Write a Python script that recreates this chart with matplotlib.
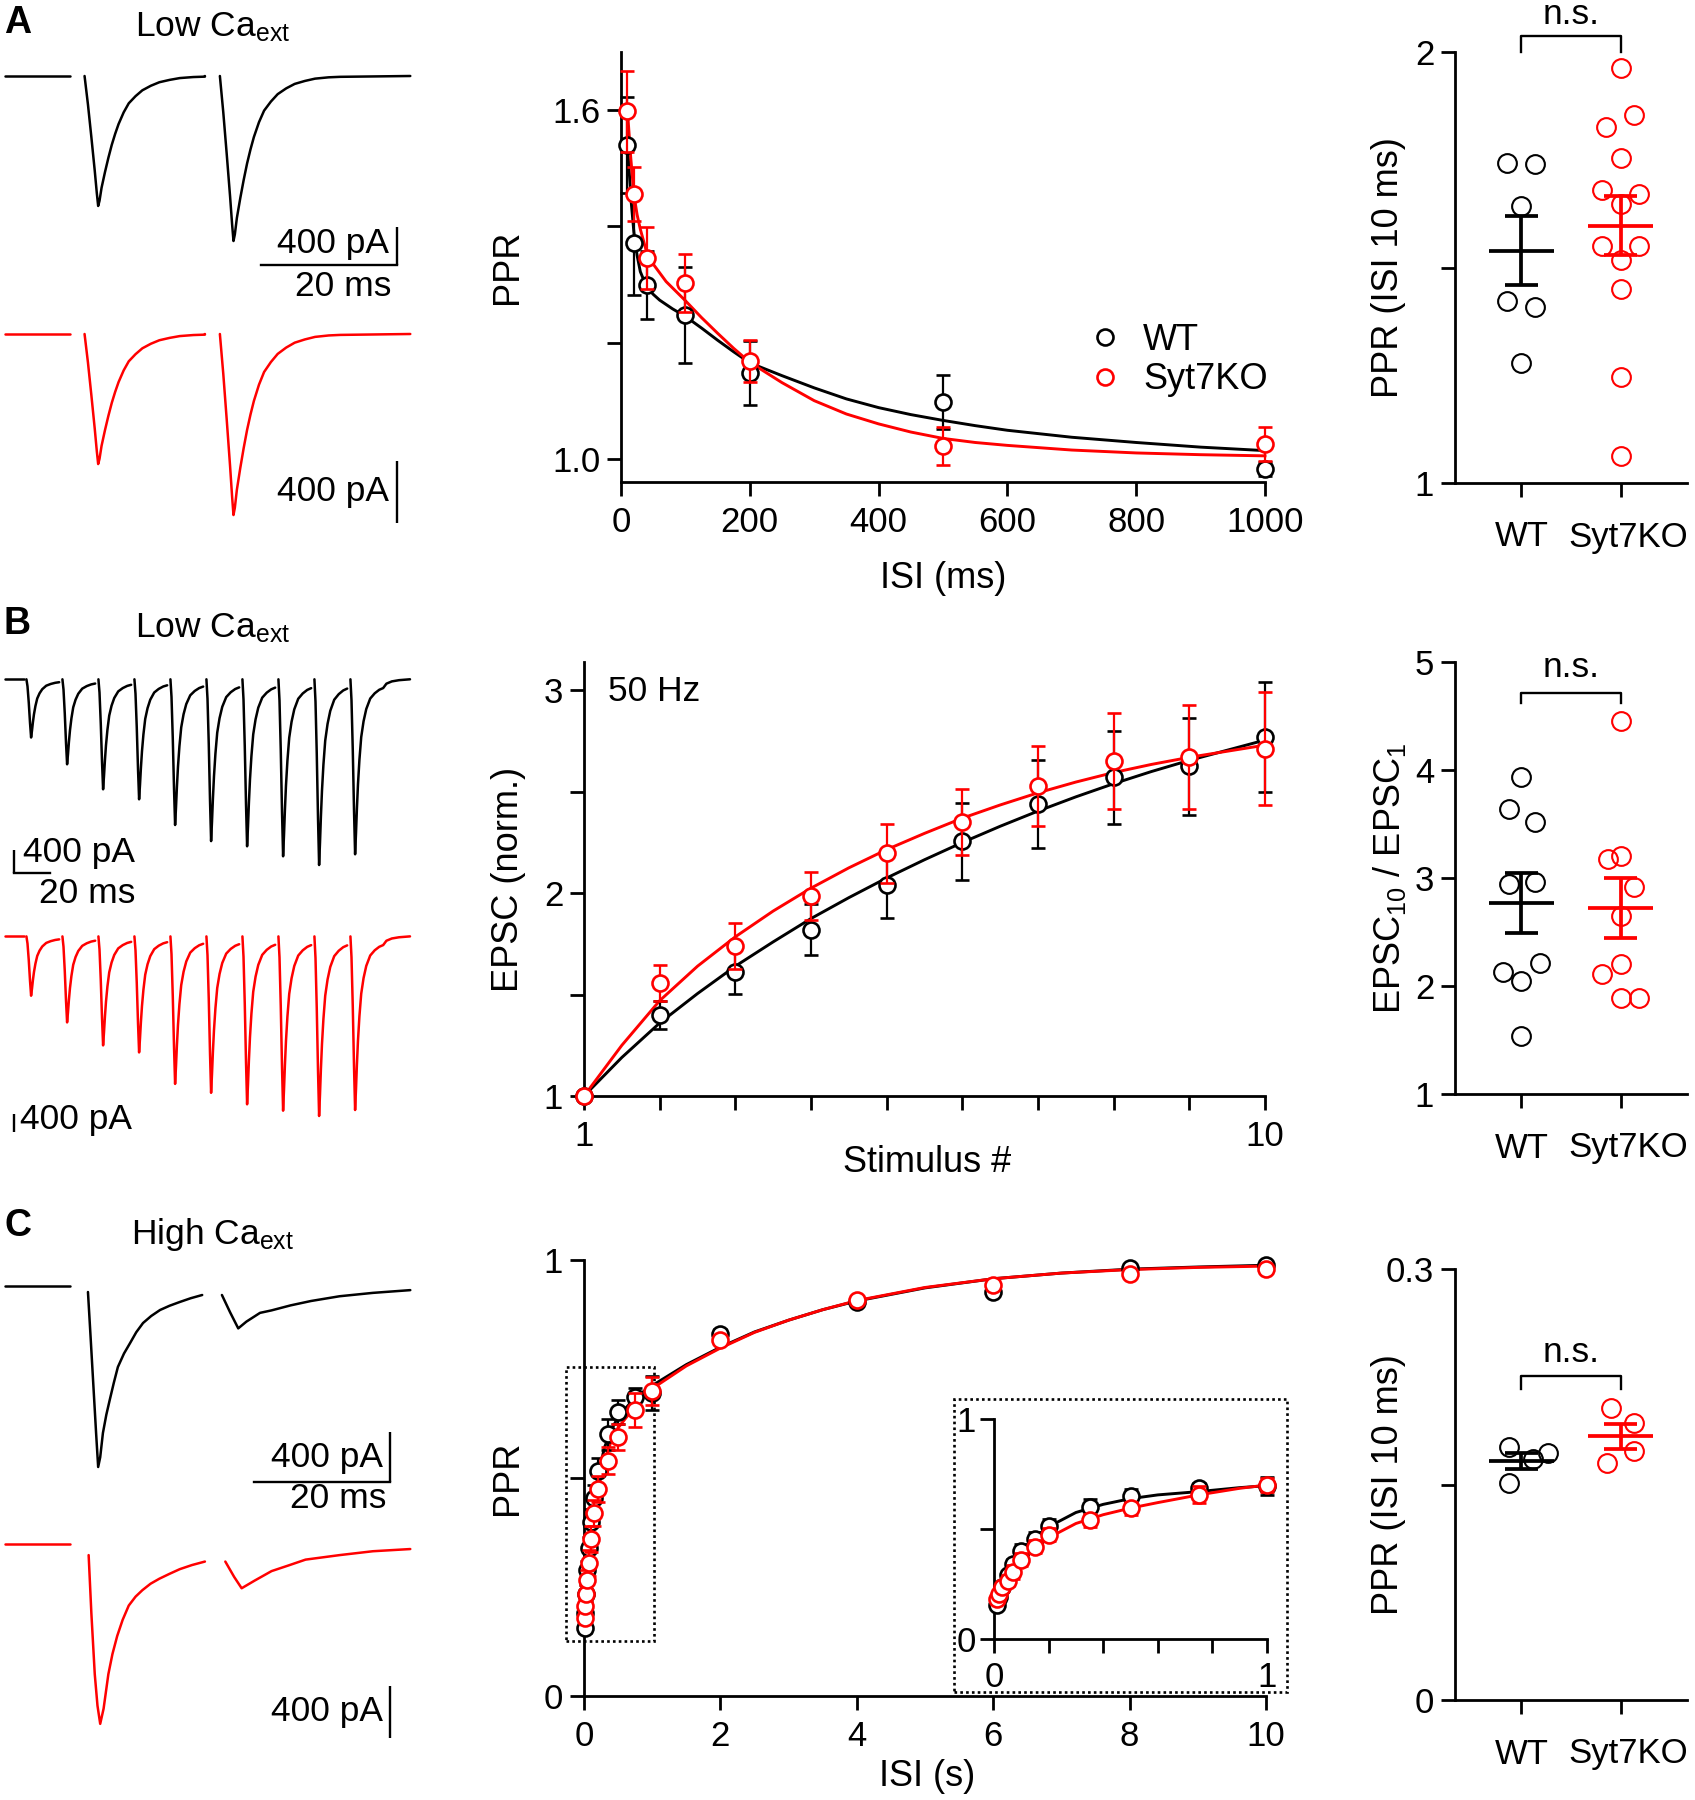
import numpy as np
import matplotlib
matplotlib.use("Agg")
import matplotlib.pyplot as plt
import matplotlib.transforms as mtransforms
from matplotlib.lines import Line2D
from matplotlib.patches import Rectangle

plt.rcParams['font.family'] = ['Liberation Sans', 'DejaVu Sans']
plt.rcParams['mathtext.fontset'] = 'custom'
plt.rcParams['mathtext.rm'] = 'Liberation Sans'
plt.rcParams['mathtext.it'] = 'Liberation Sans:italic'
plt.rcParams['mathtext.bf'] = 'Liberation Sans:bold'

# ====================== DATA ======================
# ---- Panel A, example traces (time in ms, current in pA) ----
a_pre = [0.0, 9.5]
a_onsets = [11.7, 31.6]
a_seg_end = [29.4, 59.6]
a_shape_t = [0, 0.5, 1.0, 1.5, 1.8, 2.0, 2.2, 2.5, 3.0, 3.5, 4.0, 4.5, 5.0, 5.75, 6.5, 7.5,
             8.5, 9.75, 11, 12.5, 14, 16, 17.7]
a_shape_a = [0, 0.22, 0.47, 0.73, 0.9, 1.0, 0.96, 0.86, 0.74, 0.63, 0.53, 0.445, 0.37, 0.28,
             0.21, 0.155, 0.11, 0.075, 0.048, 0.03, 0.016, 0.008, 0.005]
a_wt_amp = [1368, 1737]
a_ko_amp = [839, 1168]

# ---- Panel A, PPR vs ISI ----
isi_a = [10, 20, 40, 100, 200, 500, 1000]
wt_a = [1.540, 1.371, 1.299, 1.247, 1.147, 1.098, 0.983]
wt_a_err = [0.082, 0.09, 0.058, 0.083, 0.055, 0.047, 0.012]
ko_a = [1.598, 1.456, 1.346, 1.303, 1.168, 1.022, 1.025]
ko_a_err = [0.07, 0.046, 0.053, 0.05, 0.036, 0.032, 0.029]
wt_a_fit_x = [10, 13, 16, 20, 25, 30, 40, 50, 60, 80, 100, 125, 150, 175, 200, 250, 300, 350,
              400, 450, 500, 550, 600, 700, 800, 900, 1000]
wt_a_fit_y = [1.540, 1.490, 1.440, 1.390, 1.350, 1.322, 1.295, 1.283, 1.273, 1.258, 1.245,
              1.225, 1.204, 1.184, 1.165, 1.143, 1.122, 1.103, 1.088, 1.076, 1.066, 1.057,
              1.049, 1.037, 1.028, 1.020, 1.014]
ko_a_fit_x = [10, 15, 20, 25, 30, 40, 50, 70, 100, 125, 150, 175, 200, 250, 300, 350, 400,
              450, 500, 550, 600, 700, 800, 900, 1000]
ko_a_fit_y = [1.600, 1.520, 1.455, 1.420, 1.395, 1.355, 1.335, 1.305, 1.272, 1.243, 1.216,
              1.190, 1.166, 1.131, 1.100, 1.077, 1.060, 1.046, 1.035, 1.028, 1.023, 1.015,
              1.010, 1.007, 1.005]

# ---- Panel A, PPR at ISI 10 ms per cell ----
wt_a_cells = [1.743, 1.741, 1.642, 1.422, 1.408, 1.279]
ko_a_cells = [1.963, 1.853, 1.825, 1.753, 1.679, 1.670, 1.648, 1.549, 1.549, 1.518, 1.449, 1.245, 1.063]

# ---- Panel B, example 50 Hz trains ----
b_pre = [0.0, 10.4]
b_first_onset = 11.9
b_interval = 20.0
b_end = 225.0
b_shape_t = [0, 0.6, 1.3, 2.0, 2.6, 3.1, 3.6, 4.2, 5.0, 6.0, 7.3, 8.8, 11, 13.5, 16, 18.2]
b_shape_a = [0, 0.12, 0.4, 0.75, 1.0, 0.88, 0.74, 0.6, 0.46, 0.33, 0.24, 0.17, 0.11, 0.08, 0.06, 0.05]
b_tail_t = [20, 23, 27, 33]
b_tail_a = [0.025, 0.012, 0.005, 0.0]
b_wt_amp = [1012, 1478, 1913, 2087, 2534, 2814, 2904, 3078, 3230, 3043]
b_ko_amp = [1318, 1911, 2422, 2578, 3278, 3476, 3731, 3873, 3991, 3858]

# ---- Panel B, normalized EPSC vs stimulus number ----
stim_b = [1, 2, 3, 4, 5, 6, 7, 8, 9, 10]
wt_b = [1.0, 1.398, 1.613, 1.820, 2.039, 2.255, 2.440, 2.572, 2.625, 2.771]
wt_b_err = [0, 0.07, 0.11, 0.125, 0.16, 0.19, 0.215, 0.23, 0.24, 0.27]
ko_b = [1.0, 1.556, 1.739, 1.986, 2.197, 2.352, 2.528, 2.651, 2.673, 2.713]
ko_b_err = [0, 0.09, 0.115, 0.12, 0.145, 0.163, 0.198, 0.237, 0.256, 0.277]
b_fit_x = [1, 1.5, 2, 2.5, 3, 3.5, 4, 4.5, 5, 5.5, 6, 6.5, 7, 7.5, 8, 8.5, 9, 9.5, 10]
wt_b_fit = [1.0, 1.19, 1.36, 1.505, 1.64, 1.76, 1.875, 1.978, 2.075, 2.165, 2.25, 2.33, 2.405,
            2.475, 2.54, 2.60, 2.655, 2.705, 2.755]
ko_b_fit = [1.0, 1.25, 1.47, 1.64, 1.785, 1.912, 2.025, 2.125, 2.215, 2.295, 2.37, 2.435, 2.495,
            2.548, 2.595, 2.635, 2.67, 2.70, 2.73]

# ---- Panel B, EPSC10/EPSC1 per cell ----
wt_b_cells = [3.937, 3.64, 3.515, 2.94, 2.96, 2.132, 2.21, 2.05, 1.538]
ko_b_cells = [4.452, 3.175, 3.2, 2.92, 2.65, 2.2, 2.11, 1.89, 1.89]

# ---- Panel C, example traces (high Ca) ----
c_pre = [0.0, 9.5]
c_wt_t1 = [12.2, 12.6, 13.0, 13.4, 13.7, 14.0, 14.4, 14.9, 15.4, 16.0, 16.6, 17.5, 18.4, 19.3,
           20.3, 21.5, 22.8, 24.2, 25.7, 27.3, 29.0]
c_wt_i1 = [-48, -420, -800, -1180, -1448, -1370, -1176, -1030, -912, -775, -648, -540, -456,
           -370, -296, -240, -192, -158, -128, -98, -72]
c_wt_t2 = [31.9, 33.1, 34.3, 35.5, 37.5, 39.2, 42.0, 45.0, 49.2, 54.1, 59.6]
c_wt_i2 = [-72, -210, -339, -285, -215, -195, -155, -120, -82, -55, -33]
c_ko_t1 = [12.3, 12.7, 13.2, 13.6, 14.0, 14.5, 15.2, 15.8, 16.5, 17.3, 18.2, 19.2, 20.2, 21.4,
           22.7, 24.2, 25.7, 27.5, 29.4]
c_ko_i1 = [-83, -533, -1006, -1250, -1391, -1273, -1006, -850, -710, -585, -474, -405, -355,
           -305, -266, -228, -192, -160, -133]
c_ko_t2 = [32.4, 33.7, 34.8, 36.7, 39.2, 41.7, 44.2, 49.2, 54.1, 59.6]
c_ko_i2 = [-133, -252, -340, -281, -207, -163, -118, -83, -53, -36]

# ---- Panel C, PPR vs ISI (s) ----
isi_c = [0.01, 0.02, 0.03, 0.05, 0.07, 0.1, 0.15, 0.2, 0.35, 0.5, 0.75, 1, 2, 4, 6, 8, 10]
wt_c = [0.155, 0.19, 0.235, 0.29, 0.34, 0.40, 0.455, 0.515, 0.60, 0.652, 0.685, 0.695,
        0.831, 0.904, 0.927, 0.981, 0.988]
wt_c_err = [0.01, 0.015, 0.02, 0.02, 0.025, 0.03, 0.03, 0.03, 0.035, 0.028, 0.022, 0.04,
            0.01, 0.01, 0.01, 0.008, 0.006]
ko_c = [0.18, 0.206, 0.235, 0.265, 0.305, 0.36, 0.42, 0.475, 0.54, 0.595, 0.656, 0.70,
        0.817, 0.908, 0.942, 0.969, 0.979]
ko_c_err = [0.01, 0.015, 0.02, 0.025, 0.03, 0.03, 0.03, 0.03, 0.03, 0.03, 0.04, 0.032,
            0.01, 0.01, 0.01, 0.008, 0.006]
c_fit_x = [0.01, 0.05, 0.1, 0.2, 0.3, 0.4, 0.5, 0.75, 1.0, 1.5, 2, 2.5, 3, 3.5, 4, 5, 6, 7, 8, 9, 10]
wt_c_fit = [0.15, 0.29, 0.39, 0.50, 0.57, 0.61, 0.64, 0.685, 0.712, 0.76, 0.80, 0.835, 0.862,
            0.886, 0.906, 0.936, 0.957, 0.970, 0.979, 0.984, 0.988]
ko_c_fit = [0.17, 0.28, 0.36, 0.47, 0.54, 0.585, 0.615, 0.665, 0.705, 0.757, 0.798, 0.834, 0.862,
            0.886, 0.907, 0.937, 0.957, 0.970, 0.978, 0.983, 0.986]
ci_fit_x = [0.01, 0.03, 0.05, 0.1, 0.15, 0.2, 0.3, 0.4, 0.5, 0.6, 0.75, 0.9, 1.0]
wt_ci_fit = [0.16, 0.25, 0.30, 0.40, 0.46, 0.51, 0.575, 0.612, 0.638, 0.655, 0.67, 0.688, 0.697]
ko_ci_fit = [0.18, 0.235, 0.28, 0.355, 0.415, 0.46, 0.525, 0.565, 0.595, 0.62, 0.655, 0.685, 0.70]

# ---- Panel C, PPR at ISI 10 ms per cell ----
wt_c_cells = [0.176, 0.1717, 0.1675, 0.1511]
ko_c_cells = [0.2031, 0.1931, 0.1735, 0.1647]

groups = ['WT', 'Syt7KO']

# ====================== LAYOUT / STYLE ======================
# horizontal spread of overlapping dots (category units)
wt_a_jit = [-0.143, 0.14, 0, -0.143, 0.14, 0]
ko_a_jit = [0, 0.14, -0.143, 0, -0.19, 0.19, 0, -0.19, 0.19, 0, 0, 0, 0]
wt_b_jit = [0, -0.13, 0.14, -0.13, 0.14, -0.19, 0.19, 0, 0]
ko_b_jit = [0, -0.13, 0, 0.135, 0, 0, -0.19, 0, 0.19]
wt_c_jit = [-0.13, 0.27, 0.12, -0.13]
ko_c_jit = [-0.1, 0.135, 0.135, -0.14]

W, H = 1695, 1800
fig = plt.figure(figsize=(W / 100, H / 100), dpi=100)

BLK = 'black'
RED = '#ff0000'
FS = 25          # tick labels
LFS = 26         # axis labels
TFS = 25.5       # annotation text
SPW = 2.0        # spine width
TL = 10          # tick length
MS = 11.5
MEW = 1.9
MSR = 13.5
MEWR = 1.5
TRW = 1.8        # trace width
SBW = 1.7        # scale bar width
FITW = 2.1


def ax_px(l, t, r, b, **kw):
    return fig.add_axes([l / W, 1 - b / H, (r - l) / W, (b - t) / H], **kw)


def ftext(x, y, s, **kw):
    kw.setdefault('fontsize', TFS)
    return fig.text(x / W, 1 - y / H, s, **kw)


def style(ax, xpad=7, ypad=5):
    for s in ['top', 'right']:
        ax.spines[s].set_visible(False)
    for s in ['left', 'bottom']:
        ax.spines[s].set_linewidth(SPW)
    ax.tick_params(axis='both', width=SPW, length=TL, labelsize=FS, direction='out')
    ax.tick_params(axis='x', pad=xpad)
    ax.tick_params(axis='y', pad=ypad)
    ax.patch.set_alpha(0)


class Trace:
    def __init__(self, l, t, r, b, x0, base, px_ms, px_pA):
        self.ax = ax_px(l, t, r, b)
        self.ax.set_xlim((l - x0) / px_ms, (r - x0) / px_ms)
        self.ax.set_ylim((base - b) / px_pA, (base - t) / px_pA)
        self.ax.axis('off')
        self.x0, self.base, self.px_ms, self.px_pA = x0, base, px_ms, px_pA

    def t(self, xpx):
        return (xpx - self.x0) / self.px_ms

    def i(self, ypx):
        return (self.base - ypx) / self.px_pA

    def line(self, t, i, color):
        self.ax.plot(t, i, color=color, lw=TRW, clip_on=False, solid_joinstyle='round',
                     solid_capstyle='round')

    def vbar(self, xpx, ybot_px, dI):
        t = self.t(xpx)
        i0 = self.i(ybot_px)
        self.ax.plot([t, t], [i0, i0 + dI], color=BLK, lw=SBW, clip_on=False,
                     solid_capstyle='butt')

    def hbar(self, xleft_px, ypx, dt):
        t0 = self.t(xleft_px)
        i0 = self.i(ypx)
        self.ax.plot([t0, t0 + dt], [i0, i0], color=BLK, lw=SBW, clip_on=False,
                     solid_capstyle='projecting')


def series(ax, x, y, e, color, z):
    cont = ax.errorbar(x, y, yerr=e, fmt='none', ecolor=color, elinewidth=1.6,
                       capsize=4.8, capthick=1.9, zorder=z)
    for art in cont.get_children():
        art.set_clip_on(False)
    ax.plot(x, y, 'o', ms=MS, mfc='white', mec=color, mew=MEW, zorder=z + 0.5, clip_on=False)


def dots(ax, vals, jit, xc, color):
    xs = [xc + j for j in jit]
    ax.plot(xs, vals, 'o', ms=MSR, mfc='none', mec=color, mew=MEWR, clip_on=False, zorder=3)
    m = np.mean(vals)
    sem = np.std(vals, ddof=1) / np.sqrt(len(vals))
    kw = dict(color=color, lw=2.7, solid_capstyle='butt', zorder=4, clip_on=False)
    ax.plot([xc - 0.33, xc + 0.33], [m, m], **kw)
    ax.plot([xc, xc], [m - sem, m + sem], **kw)
    ax.plot([xc - 0.163, xc + 0.163], [m + sem, m + sem], **kw)
    ax.plot([xc - 0.163, xc + 0.163], [m - sem, m - sem], **kw)


def bracket(ax, y0, y1, ytxt):
    ax.plot([0, 0, 1, 1], [y0, y1, y1, y0], color=BLK, lw=1.7, clip_on=False)
    ax.text(0.5, ytxt, 'n.s.', ha='center', va='center', fontsize=TFS)


def right_panel(ax, ylim, yticks, ylabels, ylab, lab_x_px, l_px, w_px):
    style(ax, xpad=17)
    ax.set_xlim(-0.67, 1.67)
    ax.set_ylim(*ylim)
    ax.set_yticks(yticks)
    ax.set_yticklabels(ylabels)
    ax.set_xticks([0, 1])
    ax.set_xticklabels(groups)
    shift = mtransforms.ScaledTranslation(8 / 100, 0, fig.dpi_scale_trans)
    lab = ax.get_xticklabels()[1]
    lab.set_transform(lab.get_transform() + shift)
    ax.set_ylabel(ylab, fontsize=LFS, va='center')
    ax.yaxis.set_label_coords((lab_x_px - l_px) / w_px, 0.5)


# ---------------- panel letters & titles ----------------
ftext(4, 33, 'A', fontsize=27, fontweight='bold', va='baseline')
ftext(4, 634, 'B', fontsize=27, fontweight='bold', va='baseline')
ftext(4, 1236, 'C', fontsize=27, fontweight='bold', va='baseline')
ftext(135, 36, r'Low Ca$_{\mathregular{ext}}$', va='baseline')
ftext(135, 637, r'Low Ca$_{\mathregular{ext}}$', va='baseline')
ftext(131, 1244, r'High Ca$_{\mathregular{ext}}$', va='baseline')

# ---------------- A traces ----------------
for amps, color, box, base, ppa in [(a_wt_amp, BLK, (55, 290), 76, 0.095),
                                    (a_ko_amp, RED, (315, 545), 334, 0.155)]:
    tr = Trace(5, box[0], 412, box[1], 5, base, 6.8, ppa)
    tr.line(a_pre, [0, 0], color)
    for on, end, amp in zip(a_onsets, a_seg_end, amps):
        ts = list(on + np.array(a_shape_t)) + [end]
        Is = list(-amp * np.array(a_shape_a)) + [0]
        tr.line(ts, Is, color)
    if color == BLK:
        tr.vbar(396.6, 265, 400)
        tr.hbar(396.6 - 20 * 6.8, 265, 20)
        ftext(389, 243, '400 pA', ha='right', va='center')
        ftext(391, 286, '20 ms', ha='right', va='center')
    else:
        tr.vbar(396.6, 523, 400)
        ftext(389, 492, '400 pA', ha='right', va='center')

# ---------------- B traces ----------------
for amps, color, box, base, ppa in [(b_wt_amp, BLK, (660, 900), 679.3, 0.0575),
                                    (b_ko_amp, RED, (915, 1150), 936.4, 0.045)]:
    tr = Trace(5, box[0], 412, box[1], 5, base, 1.8, ppa)
    tr.line(b_pre, [0, 0], color)
    n = len(amps)
    for k, amp in enumerate(amps):
        on = b_first_onset + k * b_interval
        st = list(b_shape_t) + (list(b_tail_t) if k == n - 1 else [])
        sa = list(b_shape_a) + (list(b_tail_a) if k == n - 1 else [])
        ts = list(on + np.array(st))
        Is = list(-amp * np.array(sa))
        if k == n - 1:
            ts.append(b_end)
            Is.append(0)
        tr.line(ts, Is, color)
    if color == BLK:
        tr.vbar(13.6, 873, 400)
        tr.hbar(13.6, 873, 20)
        ftext(23, 852, '400 pA', ha='left', va='center')
        ftext(39, 893, '20 ms', ha='left', va='center')
    else:
        tr.vbar(13.6, 1132, 400)
        ftext(20, 1120, '400 pA', ha='left', va='center')

# ---------------- C traces ----------------
for segs, color, box, base, ppa in [([(c_wt_t1, c_wt_i1), (c_wt_t2, c_wt_i2)], BLK, (1270, 1500), 1286, 0.125),
                                    ([(c_ko_t1, c_ko_i1), (c_ko_t2, c_ko_i2)], RED, (1525, 1760), 1544.4, 0.129)]:
    tr = Trace(5, box[0], 412, box[1], 5, base, 6.8, ppa)
    tr.line(c_pre, [0, 0], color)
    for ts, Is in segs:
        tr.line(ts, Is, color)
    if color == BLK:
        tr.vbar(389.8, 1481.5, 400)
        tr.hbar(389.8 - 20 * 6.8, 1481.5, 20)
        ftext(383, 1457, '400 pA', ha='right', va='center')
        ftext(386, 1499, '20 ms', ha='right', va='center')
    else:
        tr.vbar(389.8, 1737.7, 400)
        ftext(383, 1711, '400 pA', ha='right', va='center')

# ---------------- A middle ----------------
L, T, R, B_ = 621, 52, 1265, 482
axA = ax_px(L, T, R, B_)
style(axA)
axA.plot(wt_a_fit_x, wt_a_fit_y, color=BLK, lw=FITW, zorder=2, clip_on=False)
axA.plot(ko_a_fit_x, ko_a_fit_y, color=RED, lw=FITW, zorder=2.1, clip_on=False)
series(axA, isi_a, wt_a, wt_a_err, BLK, 3)
series(axA, isi_a, ko_a, ko_a_err, RED, 5)
axA.set_xlim(0, 1000)
axA.set_ylim(0.96, 1.70)
axA.set_xticks([0, 200, 400, 600, 800, 1000])
axA.set_yticks([1.0, 1.2, 1.4, 1.6])
axA.set_yticklabels(['1.0', '', '', '1.6'])
axA.set_xlabel('ISI (ms)', fontsize=LFS, va='center')
axA.xaxis.set_label_coords(0.5, -(578 - B_) / (B_ - T))
axA.set_ylabel('PPR', fontsize=LFS, va='center')
axA.yaxis.set_label_coords((508 - L) / (R - L), 0.5)
hd = [Line2D([], [], ls='none', marker='o', ms=MS, mfc='white', mec=BLK, mew=MEW),
      Line2D([], [], ls='none', marker='o', ms=MS, mfc='white', mec=RED, mew=MEW)]
axA.legend(hd, groups, loc='center left', bbox_to_anchor=(1087 / W, 1 - 360 / H),
           bbox_transform=fig.transFigure, frameon=False, fontsize=LFS, handlelength=1.0,
           handletextpad=0.55, labelspacing=0.12, borderpad=0, borderaxespad=0)

# ---------------- B middle ----------------
L, T, R, B_ = 584, 662, 1265, 1096
axB = ax_px(L, T, R, B_)
style(axB)
axB.plot(b_fit_x, wt_b_fit, color=BLK, lw=FITW, zorder=2, clip_on=False)
axB.plot(b_fit_x, ko_b_fit, color=RED, lw=FITW, zorder=2.1, clip_on=False)
series(axB, stim_b, wt_b, wt_b_err, BLK, 3)
series(axB, stim_b, ko_b, ko_b_err, RED, 5)
axB.set_xlim(1, 10)
axB.set_ylim(1, 3.14)
axB.set_xticks(stim_b)
axB.set_xticklabels(['1'] + [''] * 8 + ['10'])
axB.set_yticks([1, 1.5, 2, 2.5, 3])
axB.set_yticklabels(['1', '', '2', '', '3'])
ftext(608, 692, '50 Hz', ha='left', va='center')
axB.set_xlabel('Stimulus #', fontsize=LFS, va='center')
axB.xaxis.set_label_coords((927 - L) / (R - L), -(1162 - B_) / (B_ - T))
axB.set_ylabel('EPSC (norm.)', fontsize=LFS, va='center')
axB.yaxis.set_label_coords((508 - L) / (R - L), 0.5)

# ---------------- C middle ----------------
L, T, R, B_ = 584, 1260, 1266, 1696
axC = ax_px(L, T, R, B_)
style(axC)
axC.plot(c_fit_x, wt_c_fit, color=BLK, lw=FITW, zorder=2, clip_on=False)
axC.plot(c_fit_x, ko_c_fit, color=RED, lw=FITW, zorder=2.1, clip_on=False)
series(axC, isi_c, wt_c, wt_c_err, BLK, 3)
series(axC, isi_c, ko_c, ko_c_err, RED, 5)
axC.set_xlim(0, 10)
axC.set_ylim(0, 1)
axC.set_xticks([0, 2, 4, 6, 8, 10])
axC.set_yticks([0, 0.5, 1])
axC.set_yticklabels(['0', '', '1'])
axC.add_patch(Rectangle((-0.27, 0.127), 1.29, 0.627, fill=False, ls=(0, (1, 1.2)), lw=1.9,
                        ec=BLK, clip_on=False, zorder=1))
axC.set_xlabel('ISI (s)', fontsize=LFS, va='center')
axC.xaxis.set_label_coords((927 - L) / (R - L), -(1776 - B_) / (B_ - T))
axC.set_ylabel('PPR', fontsize=LFS, va='center')
axC.yaxis.set_label_coords((508 - L) / (R - L), 0.5)

# inset
fig.patches.append(Rectangle((954 / W, 1 - 1692 / H), (1287 - 954) / W, (1692 - 1399) / H,
                             transform=fig.transFigure, fill=False, ls=(0, (1, 1.2)), lw=1.9,
                             ec=BLK, zorder=1))
axI = ax_px(994, 1419, 1267, 1639)
style(axI, xpad=6, ypad=3)
nin = sum(1 for v in isi_c if v <= 1)
axI.plot(ci_fit_x, wt_ci_fit, color=BLK, lw=FITW, zorder=2, clip_on=False)
axI.plot(ci_fit_x, ko_ci_fit, color=RED, lw=FITW, zorder=2.1, clip_on=False)
series(axI, isi_c[:nin], wt_c[:nin], wt_c_err[:nin], BLK, 3)
series(axI, isi_c[:nin], ko_c[:nin], ko_c_err[:nin], RED, 5)
axI.set_xlim(0, 1)
axI.set_ylim(0, 1)
axI.set_xticks([0, 0.2, 0.4, 0.6, 0.8, 1.0])
axI.set_xticklabels(['0', '', '', '', '', '1'])
axI.set_yticks([0, 0.5, 1])
axI.set_yticklabels(['0', '', '1'])

# ---------------- right panels ----------------
L, R = 1455, 1687
axRA = ax_px(L, 52, R, 483)
right_panel(axRA, (1, 2), [1, 1.5, 2], ['1', '', '2'], 'PPR (ISI 10 ms)', 1389, L, R - L)
dots(axRA, wt_a_cells, wt_a_jit, 0, BLK)
dots(axRA, ko_a_cells, ko_a_jit, 1, RED)
bracket(axRA, 2.0, 2.036, 2.088)

axRB = ax_px(L, 662, R, 1094)
right_panel(axRB, (1, 5), [1, 2, 3, 4, 5], ['1', '2', '3', '4', '5'],
            r'EPSC$_{\mathregular{10}}$ / EPSC$_{\mathregular{1}}$', 1389, L, R - L)
dots(axRB, wt_b_cells, wt_b_jit, 0, BLK)
dots(axRB, ko_b_cells, ko_b_jit, 1, RED)
bracket(axRB, 4.62, 4.713, 4.95)

axRC = ax_px(L, 1269, R, 1700)
right_panel(axRC, (0, 0.3), [0, 0.15, 0.3], ['0', '', '0.3'], 'PPR (ISI 10 ms)', 1389, L, R - L)
dots(axRC, wt_c_cells, wt_c_jit, 0, BLK)
dots(axRC, ko_c_cells, ko_c_jit, 1, RED)
bracket(axRC, 0.2167, 0.2255, 0.242)

fig.savefig('out.png', dpi=100)
